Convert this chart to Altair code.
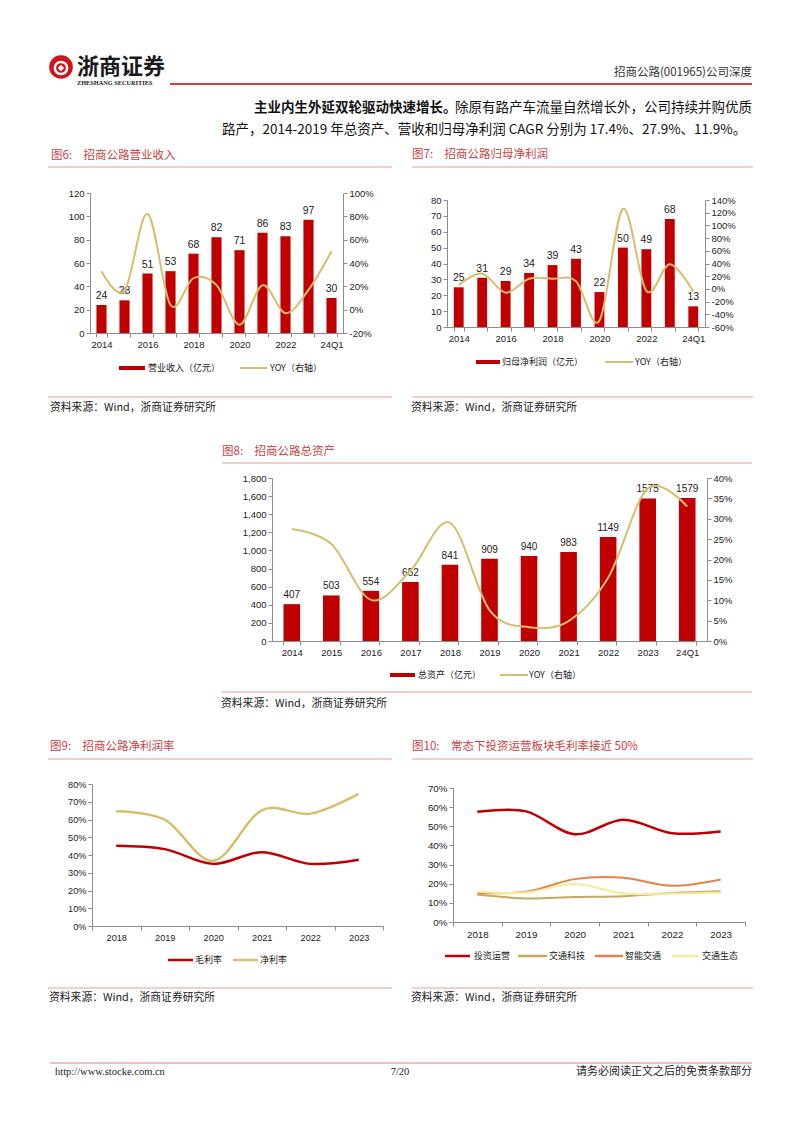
import json
import altair as alt
import pandas as pd

# ------------------------------------------------------------------ data
years11 = ["2014", "2015", "2016", "2017", "2018", "2019", "2020", "2021", "2022", "2023", "24Q1"]
shown_alt = ["2014", "2016", "2018", "2020", "2022", "24Q1"]

revenue = [24, 28, 51, 53, 68, 82, 71, 86, 83, 97, 30]
revenue_yoy = [33, 16, 82, 4, 27, 21, -13, 21, -3, 17, 50]

net_profit = [25, 31, 29, 34, 39, 43, 22, 50, 49, 68, 13]
net_profit_yoy = [6, 24, -6, 16, 16, 12, -50, 126, -3, 39, -4]

assets = [407, 503, 554, 652, 841, 909, 940, 983, 1149, 1575, 1579]
assets_yoy = [27.5, 23.8, 10.1, 17.2, 29.0, 7.6, 3.4, 4.9, 15.5, 37.4, 33.0]

years6 = ["2018", "2019", "2020", "2021", "2022", "2023"]
gross_margin = [45.2, 43.3, 35.0, 41.6, 35.0, 37.3]
net_margin = [64.6, 59.9, 36.7, 65.2, 63.3, 74.4]

seg_invest = [57.6, 57.8, 45.9, 53.4, 46.4, 47.3]
seg_tech = [14.4, 12.3, 13.1, 13.5, 15.2, 16.1]
seg_smart = [15.2, 15.8, 22.4, 23.1, 18.9, 22.2]
seg_eco = [15.8, 15.4, 19.8, 14.9, 14.9, 15.4]

fig_titles = [
    "图6:　招商公路营业收入",
    "图7:　招商公路归母净利润",
    "图8:　招商公路总资产",
    "图9:　招商公路净利润率",
    "图10:　常态下投资运营板块毛利率接近 50%",
]
source_text = "资料来源：Wind，浙商证券研究所"
legend6 = ["营业收入（亿元）", "YOY（右轴）"]
legend7 = ["归母净利润（亿元）", "YOY（右轴）"]
legend8 = ["总资产（亿元）", "YOY（右轴）"]
legend9 = ["毛利率", "净利率"]
legend10 = ["投资运营", "交通科技", "智能交通", "交通生态"]

header_right = "招商公路(001965)公司深度"
logo_cn = "浙商证券"
logo_en = "ZHESHANG SECURITIES"
para_bold = "主业内生外延双轮驱动快速增长。"
para_1 = "除原有路产车流量自然增长外，公司持续并购优质"
para_2 = "路产，2014-2019 年总资产、营收和归母净利润 CAGR 分别为 17.4%、27.9%、11.9%。"
footer_left = "http://www.stocke.com.cn"
footer_mid = "7/20"
footer_right = "请务必阅读正文之后的免责条款部分"

# ------------------------------------------------------------------ style
W, H = 786, 1117
SANS = "Liberation Sans"
SERIF = "Liberation Serif"
CJK = "Noto Sans CJK SC"
RED = "#C00000"
TAN = "#D8BD6E"
TITLE_RED = "#C8413F"
PINK = "#E4A0A0"
AXC = "#8C8C8C"

dummy = pd.DataFrame({"k": [0]})


def text_layer(s, x, y, size, color="#222222", align="left", font=CJK, weight="normal", baseline="middle"):
    return alt.Chart(pd.DataFrame({"t": [s]})).mark_text(
        align=align, baseline=baseline, fontSize=size, font=font, fontWeight=weight, color=color
    ).encode(x=alt.value(x), y=alt.value(y), text="t:N")


def hline(x1, x2, y, color, width=1.0):
    return alt.Chart(dummy).mark_rule(color=color, strokeWidth=width).encode(
        x=alt.value(x1), x2=alt.value(x2), y=alt.value(y)
    )


def rect_sw(x1, x2, y1, y2, color):
    return alt.Chart(dummy).mark_rect(color=color).encode(
        x=alt.value(x1), x2=alt.value(x2), y=alt.value(y1), y2=alt.value(y2)
    )


def bar_panel(cats, vals, yoy, xr, yr, ldom, lvals, lfmt, rdom, rvals, pad, shown,
              lab_size=10.5, ax_size=9.5):
    df = pd.DataFrame({"cat": cats, "val": vals, "yoy": yoy})
    base = alt.Chart(df)
    xscale = alt.Scale(domain=cats, range=xr, paddingInner=pad, paddingOuter=pad / 2)
    shown_expr = "indexof(" + json.dumps(shown) + ", datum.label) >= 0 ? datum.label : ''"
    xaxis = alt.Axis(orient="bottom", offset=yr[0] - H, title=None, labelAngle=0,
                     tickBand="extent", labelExpr=shown_expr, labelFontSize=ax_size,
                     labelPadding=2)
    lscale = alt.Scale(domain=ldom, range=yr, nice=False)
    laxis = alt.Axis(orient="left", offset=-xr[0], values=lvals, format=lfmt,
                     title=None, labelFontSize=ax_size)
    xenc = alt.X("cat:N", sort=cats, scale=xscale, axis=xaxis)
    yenc = alt.Y("val:Q", scale=lscale, axis=laxis)
    bars = base.mark_bar(color=RED).encode(x=xenc, y=yenc)
    labels = base.mark_text(baseline="bottom", dy=-4, fontSize=lab_size, font=SANS,
                            color="#222222").encode(x=xenc, y=yenc, text=alt.Text("val:Q"))
    line = base.mark_line(color=TAN, strokeWidth=2, interpolate="cardinal").encode(
        x=xenc,
        y=alt.Y("yoy:Q", scale=alt.Scale(domain=rdom, range=yr, nice=False, zero=False),
                axis=alt.Axis(orient="right", offset=xr[1] - W, values=rvals,
                              labelExpr="datum.value + '%'", title=None,
                              labelFontSize=ax_size)),
    )
    return alt.layer(alt.layer(bars, labels), line).resolve_scale(y="independent")


def line_panel(cats, series, xr, yr, dom, vals, ax_size=9.5):
    xscale = alt.Scale(type="band", domain=cats, range=xr, paddingInner=0, paddingOuter=0)
    yscale = alt.Scale(domain=dom, range=yr, nice=False)
    xa = alt.Axis(orient="bottom", offset=yr[0] - H, title=None, labelAngle=0,
                  tickBand="extent", labelFontSize=ax_size, labelPadding=3)
    ya = alt.Axis(orient="left", offset=-xr[0], values=vals, title=None,
                  labelExpr="datum.value + '%'", labelFontSize=ax_size)
    layers = []
    for values, color, width in series:
        df = pd.DataFrame({"cat": cats, "v": values})
        layers.append(
            alt.Chart(df).mark_line(color=color, strokeWidth=width, interpolate="cardinal").encode(
                x=alt.X("cat:N", sort=cats, scale=xscale, axis=xa),
                y=alt.Y("v:Q", scale=yscale, axis=ya),
            )
        )
    return alt.layer(*layers)


# ------------------------------------------------------------------ panels
fig6 = bar_panel(years11, revenue, revenue_yoy, [82, 335], [325, 185],
                 [0, 120], list(range(0, 121, 20)), "d",
                 [-20, 100], list(range(-20, 101, 20)), 0.56, shown_alt)
fig7 = bar_panel(years11, net_profit, net_profit_yoy, [439, 697], [319, 192],
                 [0, 80], list(range(0, 81, 10)), "d",
                 [-60, 140], list(range(-60, 141, 20)), 0.58, shown_alt)
fig8 = bar_panel(years11, assets, assets_yoy, [264, 699], [633, 470],
                 [0, 1800], list(range(0, 1801, 200)), ",.0f",
                 [0, 40], list(range(0, 41, 5)), 0.58, years11, lab_size=10)
fig9 = line_panel(years6, [(gross_margin, RED, 2.5), (net_margin, TAN, 2.5)],
                  [84, 375], [918, 776], [0, 80], list(range(0, 81, 10)), ax_size=9.2)
fig10 = line_panel(years6, [(seg_invest, RED, 2.5), (seg_tech, "#C9A860", 2),
                            (seg_smart, "#E8804A", 2), (seg_eco, "#F7EB9A", 2)],
                   [445, 737], [914, 780], [0, 70], list(range(0, 71, 10)), ax_size=9.8)

# ------------------------------------------------------------------ decorations
deco = []
# header
deco.append(alt.Chart(dummy).mark_point(shape="circle", filled=True, color="#D0141B", size=560, opacity=1)
            .encode(x=alt.value(53), y=alt.value(59)))
deco.append(alt.Chart(dummy).mark_point(shape="circle", filled=False, color="white", size=150, strokeWidth=2.5, opacity=1)
            .encode(x=alt.value(53), y=alt.value(60)))
deco.append(alt.Chart(dummy).mark_point(shape="diamond", filled=True, color="white", size=40, opacity=1)
            .encode(x=alt.value(53), y=alt.value(60)))
deco.append(text_layer(logo_cn, 69, 59, 22, color="#1a1a1a", weight="bold"))
deco.append(text_layer(logo_en, 69, 75, 6.3, color="#1a1a1a", font=SERIF, weight="bold"))
deco.append(text_layer(header_right, 744, 65, 11.5, align="right", color="#333333"))
deco.append(hline(162, 744, 76, RED, 1.5))
deco.append(text_layer(para_bold, 246, 100, 13.5, weight="bold", color="#111111"))
deco.append(text_layer(para_1, 744, 100, 13.5, align="right", color="#111111"))
deco.append(text_layer(para_2, 214, 122, 13.5, color="#111111"))

# figure frames: (title x, title y, line x1, x2, underline y, bottom y, source y)
frames = [
    (43, 148, 40, 384, 159, 389, 400),
    (404, 147, 404, 745, 159, 389, 400),
    (214, 444, 214, 744, 455, 684, 696),
    (42, 739, 40, 384, 751, 980, 990),
    (404, 739, 404, 745, 751, 980, 990),
]
for title, (tx, ty, lx1, lx2, uy, by, sy) in zip(fig_titles, frames):
    deco.append(text_layer(title, tx, ty, 11.5, color=TITLE_RED))
    deco.append(hline(lx1, lx2, uy, PINK, 1.2))
    deco.append(hline(lx1, lx2, by, PINK, 1.2))
    deco.append(text_layer(source_text, tx - 1, sy, 10.8, color="#222222"))

# legends of bar panels
for (labels, ly, bx1, bx2, btx, lx1, lx2, ltx) in [
    (legend6, 360, 111, 137, 140, 232, 259, 262),
    (legend7, 354, 468, 492, 494, 597, 625, 627),
    (legend8, 667, 382, 407, 410, 492, 520, 521),
]:
    deco.append(rect_sw(bx1, bx2, ly - 2, ly + 2, RED))
    deco.append(text_layer(labels[0], btx, ly, 9, color="#222222"))
    deco.append(hline(lx1, lx2, ly, TAN, 2))
    deco.append(text_layer(labels[1], ltx, ly, 9, color="#222222"))

# legends of line panels
for lab, color, x1, x2, tx in zip(legend9, [RED, TAN], [160, 225], [185, 250], [187, 252]):
    deco.append(hline(x1, x2, 952, color, 2.5))
    deco.append(text_layer(lab, tx, 952, 9, color="#222222"))
for lab, color, x1, x2, tx in zip(legend10, [RED, "#C9A860", "#E8804A", "#F7EB9A"],
                                  [437, 510, 587, 664], [462, 539, 615, 690],
                                  [466, 541, 617, 694]):
    deco.append(hline(x1, x2, 948, color, 2.5))
    deco.append(text_layer(lab, tx, 948, 9, color="#222222"))

# footer
deco.append(hline(42, 744, 1055, "#E8A8B0", 1.5))
deco.append(text_layer(footer_left, 47, 1064, 10.5, font=SERIF, color="#222222"))
deco.append(text_layer(footer_mid, 392, 1064, 10.5, font=SERIF, align="center", color="#222222"))
deco.append(text_layer(footer_right, 744, 1064, 11, align="right", color="#222222"))

chart = (
    alt.layer(fig6, fig7, fig8, fig9, fig10, *deco)
    .resolve_scale(x="independent", y="independent")
    .properties(width=W, height=H, padding=0, autosize=alt.AutoSizeParams(type="none"),
                background="white")
    .configure_view(stroke=None)
    .configure_axis(domainColor=AXC, tickColor=AXC, labelColor="#222222", labelFont=SANS,
                    grid=False, tickSize=4, domainWidth=1, tickWidth=1, labelOverlap=False)
)

chart.save("out.html", embed_options={"renderer": "svg", "actions": False})
